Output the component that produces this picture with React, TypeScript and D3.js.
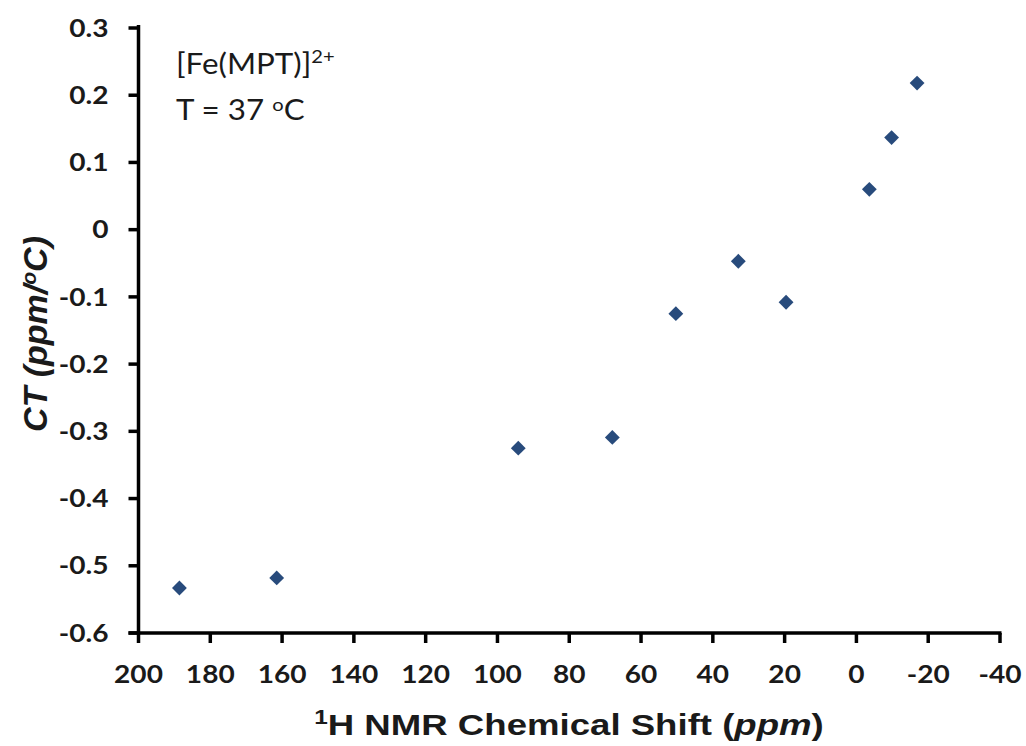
import React from "react";
import * as d3 from "d3";

// chemical shift (ppm) vs temperature coefficient (ppm/°C)
const shifts = [188.6, 161.5, 94.2, 68, 50.3, 32.9, 19.6, -3.6, -9.8, -16.9];
const coeffs = [-0.533, -0.518, -0.325, -0.309, -0.125, -0.047, -0.108, 0.06, 0.137, 0.218];
const xTicks = [200, 180, 160, 140, 120, 100, 80, 60, 40, 20, 0, -20, -40];
const yTicks = [0.3, 0.2, 0.1, 0, -0.1, -0.2, -0.3, -0.4, -0.5, -0.6];

const width = 1026;
const height = 746;
const margin = { left: 138.5, right: 26, top: 28, bottom: 113 };
const tickFont = "Lato, 'Open Sans', sans-serif";
const titleFont = "'Liberation Sans', Arial, sans-serif";
const ink = "#1a1a1a";

// the original picture is a bit wider than tall, so text is stretched sideways
function SText(props: any) {
  const { x, y, sx = 1.17, children, ...rest } = props;
  return (
    <g transform={`translate(${x},${y}) scale(${sx},1)`}>
      <text x={0} y={0} fill={ink} {...rest}>
        {children}
      </text>
    </g>
  );
}

export default function App() {
  const x = d3.scaleLinear().domain([200, -40]).range([margin.left, width - margin.right]);
  const y = d3.scaleLinear().domain([-0.6, 0.3]).range([height - margin.bottom, margin.top]);
  const marker = d3.symbol().type(d3.symbolSquare).size(110)();
  const fmtY = (v: number) => (v === 0 ? "0" : v.toFixed(1));

  const x0 = x(200);
  const y0 = y(-0.6);

  return (
    <svg
      width={width}
      height={height}
      style={{ position: "absolute", left: 0, top: 0, background: "#fff" }}
    >
      {/* y axis */}
      <line x1={x0} x2={x0} y1={y(0.3) - 3} y2={y0 + 1.5} stroke="#000" strokeWidth={3.5} />
      {yTicks.map((t) => (
        <g key={"y" + t}>
          <line x1={x0 - 10} x2={x0} y1={y(t)} y2={y(t)} stroke="#000" strokeWidth={3.5} />
          <SText
            x={x0 - 30}
            y={y(t)}
            dy="0.36em"
            textAnchor="end"
            fontSize={24}
            fontWeight="bold"
            fontFamily={tickFont}
          >
            {fmtY(t)}
          </SText>
        </g>
      ))}

      {/* x axis */}
      <line x1={x0 - 10} x2={x(-40) + 1.5} y1={y0} y2={y0} stroke="#000" strokeWidth={3.5} />
      {xTicks.map((t) => (
        <g key={"x" + t}>
          <line x1={x(t)} x2={x(t)} y1={y0} y2={y0 + 10} stroke="#000" strokeWidth={3.5} />
          <SText
            x={x(t)}
            y={y0 + 50}
            textAnchor="middle"
            fontSize={24}
            fontWeight="bold"
            fontFamily={tickFont}
          >
            {t}
          </SText>
        </g>
      ))}

      {/* points */}
      {shifts.map((s, i) => (
        <path
          key={i}
          d={marker ?? ""}
          transform={`translate(${x(s)},${y(coeffs[i])}) rotate(45)`}
          fill="#284b7c"
        />
      ))}

      {/* annotation */}
      <SText x={176} y={74} sx={1.12} fontSize={28} fontFamily={tickFont}>
        [Fe(MPT)]
        <tspan dy={-11} fontSize={18}>2+</tspan>
      </SText>
      <SText x={176} y={120} sx={1.12} fontSize={28} fontFamily={tickFont}>
        T = 37 <tspan dy={-9} fontSize={18}>o</tspan>
        <tspan dy={9}>C</tspan>
      </SText>

      {/* axis titles */}
      <SText
        x={569}
        y={735}
        sx={1.22}
        textAnchor="middle"
        fontSize={30}
        fontWeight="bold"
        fontFamily={titleFont}
      >
        <tspan dy={-11} fontSize={20}>1</tspan>
        <tspan dy={11}>H NMR Chemical Shift (</tspan>
        <tspan fontStyle="italic">ppm</tspan>
        <tspan>)</tspan>
      </SText>
      <text
        transform={`translate(47,${(233 + 435) / 2}) rotate(-90)`}
        textAnchor="middle"
        fontSize={34}
        fontWeight="bold"
        fontStyle="italic"
        fontFamily={titleFont}
        fill={ink}
      >
        CT (ppm/<tspan dy={-11} fontSize={21}>o</tspan>
        <tspan dy={11}>C)</tspan>
      </text>
    </svg>
  );
}
